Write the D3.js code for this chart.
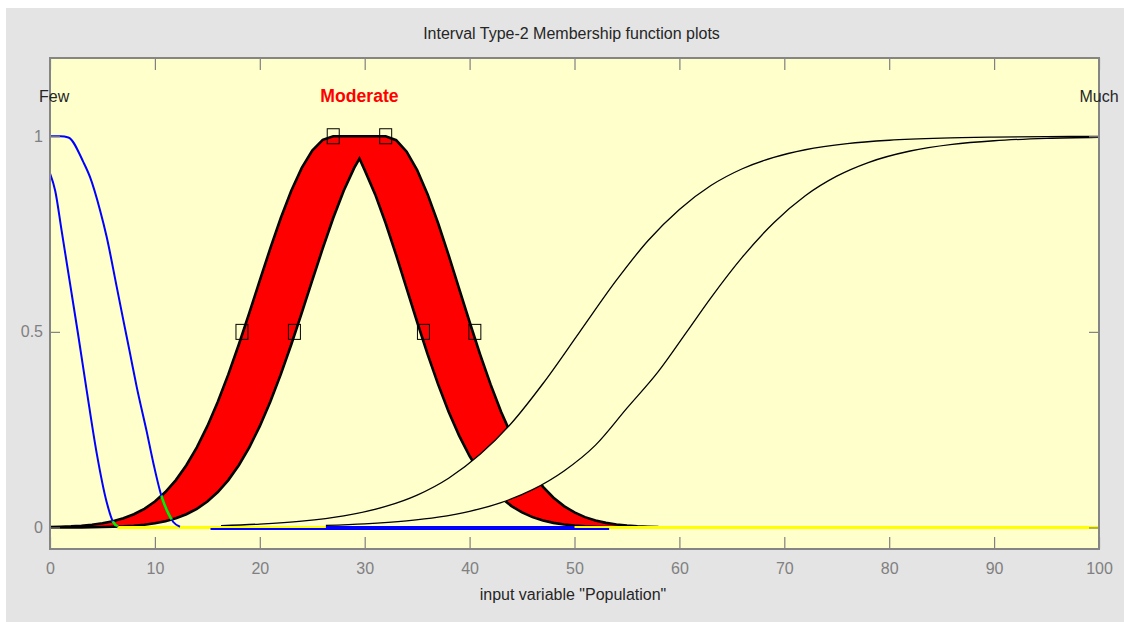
<!DOCTYPE html>
<html>
<head>
<meta charset="utf-8">
<script src="https://cdn.jsdelivr.net/npm/d3@7"></script>
<style>
  html, body { margin: 0; padding: 0; background: #ffffff; }
  svg { display: block; font-family: "Liberation Sans", Arial, sans-serif; }
</style>
</head>
<body>
<svg id="chart" width="1124" height="622"></svg>
<script>
// ---- axis ticks ----
const xTicks = [0, 10, 20, 30, 40, 50, 60, 70, 80, 90, 100];
const yTicks = [0, 0.5, 1];

// ---- "Few": interval type-2 set (blue) ----
const fewUpperX = [0, 0.16, 1.0, 1.75, 3.18, 3.81, 4.77, 5.40, 6.36, 6.99, 7.63, 8.26, 9.22, 9.85, 10.65, 11.28, 11.75, 12.39];
const fewUpperV = [1, 1, 1, 0.997, 0.934, 0.896, 0.811, 0.743, 0.615, 0.530, 0.445, 0.360, 0.245, 0.165, 0.078, 0.036, 0.014, 0.002];
const fewLowerX = [0, 0.5, 1.1, 1.9, 2.7, 3.5, 4.45, 5.4, 6.0, 6.5];
const fewLowerV = [0.905, 0.86, 0.76, 0.625, 0.49, 0.35, 0.19, 0.065, 0.015, 0.002];

// ---- "Moderate": selected set, footprint of uncertainty in red ----
const modUpperX = [0, 1, 2, 3, 4, 5, 6, 7, 8, 9, 10, 11, 12, 13, 14, 15, 16, 17, 18, 19, 20, 21, 22, 23, 24, 25, 26,
                   27, 28, 29, 30, 31, 32, 33, 34, 35, 36, 37, 38, 39, 40, 41, 42, 43, 44, 45, 46, 47, 48, 49, 50,
                   51, 52, 53, 54, 55, 56, 57, 58];
const modUpperV = [0.0011, 0.0018, 0.0028, 0.0045, 0.0070, 0.0107, 0.0160, 0.0234, 0.0338, 0.0478, 0.0664, 0.0905,
                   0.1211, 0.1590, 0.2048, 0.2590, 0.3213, 0.3913, 0.4677, 0.5486, 0.6314, 0.7133, 0.7909, 0.8606,
                   0.9190, 0.9632, 0.9907, 1, 1, 1, 1, 1, 1, 0.9900, 0.9606, 0.9135, 0.8513, 0.7776, 0.6962, 0.6108,
                   0.5252, 0.4427, 0.3657, 0.2960, 0.2349, 0.1827, 0.1392, 0.1040, 0.0761, 0.0546, 0.0384, 0.0265,
                   0.0179, 0.0118, 0.0077, 0.0049, 0.0030, 0.0019, 0.0011];
const modLowerX = [0, 1, 2, 3, 4, 5, 6, 7, 8, 9, 10, 11, 12, 13, 14, 15, 16, 17, 18, 19, 20, 21, 22, 23, 24, 25, 26,
                   27, 28, 29, 29.5, 30, 31, 32, 33, 34, 35, 36, 37, 38, 39, 40, 41, 42, 43, 44, 45, 46, 47, 48, 49,
                   50, 51, 52, 53, 54, 55];
const modLowerV = [0.0001, 0.0001, 0.0002, 0.0004, 0.0006, 0.0011, 0.0018, 0.0028, 0.0045, 0.0070, 0.0107, 0.0160,
                   0.0234, 0.0338, 0.0478, 0.0664, 0.0905, 0.1211, 0.1590, 0.2048, 0.2590, 0.3213, 0.3913, 0.4677,
                   0.5486, 0.6314, 0.7133, 0.7909, 0.8606, 0.9190, 0.943, 0.9135, 0.8513, 0.7776, 0.6962, 0.6108,
                   0.5252, 0.4427, 0.3657, 0.2960, 0.2349, 0.1827, 0.1392, 0.1040, 0.0761, 0.0546, 0.0384, 0.0265,
                   0.0179, 0.0118, 0.0077, 0.0049, 0.0030, 0.0019, 0.0011, 0.0007, 0.0004];
// parameter handles of the selected set
const handleX = [27, 32, 18.3, 23.3, 35.6, 40.5];
const handleV = [1, 1, 0.5, 0.5, 0.5, 0.5];

// ---- "Much": interval type-2 set (black) ----
const muchUpperX = [16.3, 20, 24, 28, 32, 35, 38, 41, 44, 47, 50.5, 54, 57, 60, 63, 66, 69, 72, 76, 80, 85, 90, 95, 100];
const muchUpperV = [0.005, 0.0088, 0.0162, 0.0297, 0.0538, 0.0829, 0.126, 0.187, 0.267, 0.368, 0.5, 0.632, 0.733,
                    0.813, 0.874, 0.917, 0.946, 0.9655, 0.9812, 0.9898, 0.9953, 0.9978, 0.999, 0.9995];
const muchLowerX = [26.3, 30, 34, 37, 40, 43, 46, 49, 52, 55, 58, 60.7, 63, 66, 69, 72, 75, 78, 82, 86, 90, 95, 100];
const muchLowerV = [0.0053, 0.0093, 0.017, 0.0265, 0.0413, 0.0636, 0.0967, 0.1445, 0.2105, 0.305, 0.399, 0.5, 0.587,
                    0.691, 0.779, 0.848, 0.898, 0.9328, 0.9623, 0.9791, 0.9885, 0.9946, 0.9975];

// zero-level tails along the x axis
const baseYellow = [6.4, 100];
const baseBlue = [15.3, 53.3];
const baseBlueHeavy = [26.3, 50];

// set names and where they sit on the universe of discourse
const setNames = ["Few", "Moderate", "Much"];
const setNameX = [0.4, 29.5, 100];

const titleText = "Interval Type-2 Membership function plots";
const xLabelText = "input variable \"Population\"";

// ---- layout ----
const W = 1124, H = 622;
const plot = { left: 50, right: 1099, top: 58, bottom: 549 };
const svg = d3.select("#chart");

const x = d3.scaleLinear().domain([0, 100]).range([plot.left, plot.right]);
const y = d3.scaleLinear().domain([-0.055, 1.2]).range([plot.bottom, plot.top]);

const pts = (xs, vs) => xs.map((d, i) => [d, vs[i]]);
const line = d3.line().x(d => x(d[0])).y(d => y(d[1]));
const smooth = d3.line().x(d => x(d[0])).y(d => y(d[1])).curve(d3.curveMonotoneX);

// figure background
svg.append("rect").attr("x", 6).attr("y", 8).attr("width", W - 6).attr("height", H - 8).attr("fill", "#e4e4e4");
svg.append("rect")
  .attr("x", plot.left).attr("y", plot.top)
  .attr("width", plot.right - plot.left).attr("height", plot.bottom - plot.top)
  .attr("fill", "#ffffcc");

const defs = svg.append("defs");
defs.append("clipPath").attr("id", "plotClip").append("rect")
  .attr("x", plot.left).attr("y", plot.top)
  .attr("width", plot.right - plot.left).attr("height", plot.bottom - plot.top);

const modUpper = pts(modUpperX, modUpperV);
const modLower = pts(modLowerX, modLowerV);
const modFou = modUpper.concat(modLower.slice().reverse());

defs.append("clipPath").attr("id", "modClip").append("path").attr("d", line(modFou) + "Z");

const g = svg.append("g").attr("clip-path", "url(#plotClip)");

// Moderate: footprint of uncertainty and its bounding curves
g.append("path").attr("d", line(modFou) + "Z").attr("fill", "#ff0000");
g.append("path").attr("d", line(modUpper)).attr("fill", "none").attr("stroke", "#000").attr("stroke-width", 2.6);
g.append("path").attr("d", line(modLower)).attr("fill", "none").attr("stroke", "#000").attr("stroke-width", 2.6);

g.selectAll("rect.handle")
  .data(handleX.map((d, i) => [d, handleV[i]]))
  .join("rect")
  .attr("class", "handle")
  .attr("x", d => x(d[0]) - 6).attr("y", d => y(d[1]) - 7.5)
  .attr("width", 12).attr("height", 15)
  .attr("fill", "none").attr("stroke", "#000").attr("stroke-width", 1);

// Much: footprint painted in background colour, then its curves
const muchUpper = pts(muchUpperX, muchUpperV);
const muchLower = pts(muchLowerX, muchLowerV);
g.append("path")
  .attr("d", smooth(muchUpper) + "L" + smooth(muchLower.slice().reverse()).slice(1) + "Z")
  .attr("fill", "#ffffcc");
g.append("path").attr("d", smooth(muchUpper)).attr("fill", "none").attr("stroke", "#000").attr("stroke-width", 1.3);
g.append("path").attr("d", smooth(muchLower)).attr("fill", "none").attr("stroke", "#000").attr("stroke-width", 1.3);

// zero-level tails
const y0 = y(0);
g.append("line").attr("x1", x(baseYellow[0])).attr("x2", x(baseYellow[1]))
  .attr("y1", y0).attr("y2", y0).attr("stroke", "#ffff00").attr("stroke-width", 3);
g.append("line").attr("x1", x(baseBlue[0])).attr("x2", x(baseBlue[1]))
  .attr("y1", y0 + 1.5).attr("y2", y0 + 1.5).attr("stroke", "#0000ff").attr("stroke-width", 2);
g.append("line").attr("x1", x(baseBlueHeavy[0])).attr("x2", x(baseBlueHeavy[1]))
  .attr("y1", y0 + 0.5).attr("y2", y0 + 0.5).attr("stroke", "#0000ff").attr("stroke-width", 4);

// Few: blue curves, shown green where they cross the red footprint
const fewUpper = pts(fewUpperX, fewUpperV);
const fewLower = pts(fewLowerX, fewLowerV);
[fewUpper, fewLower].forEach(c => {
  g.append("path").attr("d", smooth(c)).attr("fill", "none").attr("stroke", "#0000ff").attr("stroke-width", 2);
  g.append("path").attr("d", smooth(c)).attr("fill", "none").attr("stroke", "#00ee00").attr("stroke-width", 2.6)
    .attr("clip-path", "url(#modClip)");
});

// axes box and inward ticks
const tickColor = "#808080";
const labelColor = "#808080";

const axB = svg.append("g").attr("transform", `translate(0,${plot.bottom})`)
  .call(d3.axisBottom(x).tickValues(xTicks).tickSize(-12).tickPadding(13.6).tickFormat(d3.format("d")));
const axT = svg.append("g").attr("transform", `translate(0,${plot.top})`)
  .call(d3.axisTop(x).tickValues(xTicks).tickSize(-12).tickFormat(""));
const axL = svg.append("g").attr("transform", `translate(${plot.left},0)`)
  .call(d3.axisLeft(y).tickValues(yTicks).tickSize(-10).tickPadding(7).tickFormat(d => d === 0.5 ? "0.5" : d3.format("d")(d)));
const axR = svg.append("g").attr("transform", `translate(${plot.right},0)`)
  .call(d3.axisRight(y).tickValues(yTicks).tickSize(-10).tickFormat(""));

[axB, axT, axL, axR].forEach(a => {
  a.select(".domain").remove();
  a.selectAll(".tick line").attr("stroke", tickColor).attr("stroke-width", 1.2);
  a.selectAll(".tick text").attr("fill", labelColor).attr("font-size", 16)
    .attr("font-family", "\"Liberation Sans\", Arial, sans-serif");
});

svg.append("rect")
  .attr("x", plot.left).attr("y", plot.top)
  .attr("width", plot.right - plot.left).attr("height", plot.bottom - plot.top)
  .attr("fill", "none").attr("stroke", "#858585").attr("stroke-width", 2);

// set names above the curves
svg.selectAll("text.setname")
  .data(setNames)
  .join("text")
  .attr("class", "setname")
  .attr("x", (d, i) => x(setNameX[i]))
  .attr("y", 102)
  .attr("text-anchor", "middle")
  .attr("font-size", (d, i) => i === 1 ? 17.6 : 16)
  .attr("font-weight", (d, i) => i === 1 ? "bold" : "normal")
  .attr("fill", (d, i) => i === 1 ? "#ff0000" : "#262626")
  .text(d => d);

// title and axis label
svg.append("text").attr("x", 571.5).attr("y", 39).attr("text-anchor", "middle")
  .attr("font-size", 16).attr("fill", "#262626").text(titleText);
svg.append("text").attr("x", 573).attr("y", 600).attr("text-anchor", "middle")
  .attr("font-size", 16).attr("fill", "#262626").text(xLabelText);
</script>
</body>
</html>
